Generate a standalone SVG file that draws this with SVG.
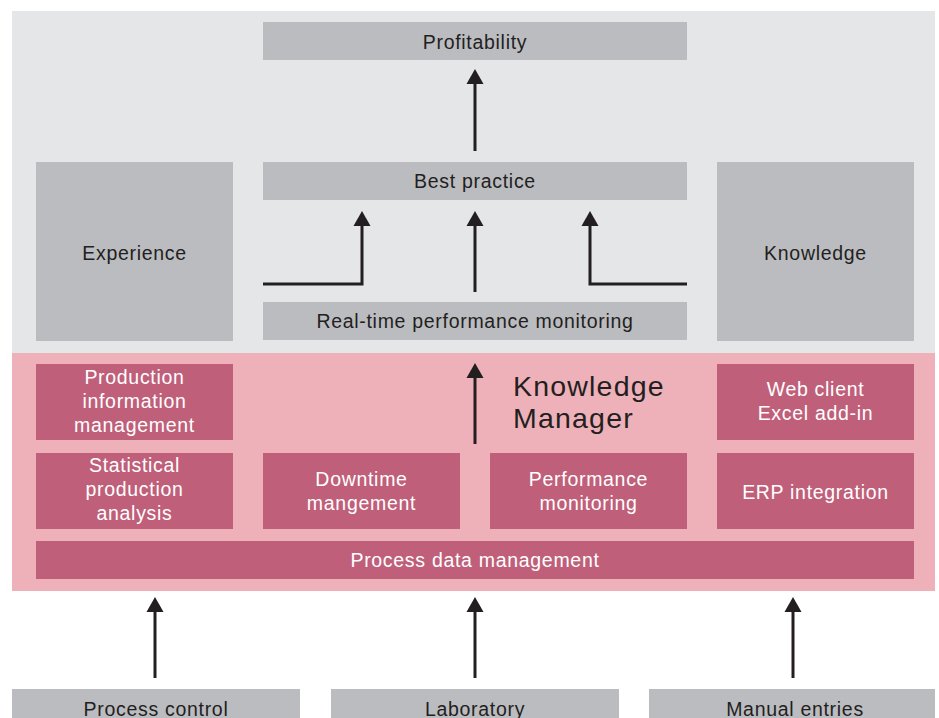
<svg xmlns="http://www.w3.org/2000/svg" width="939" height="718" viewBox="0 0 939 718">
<defs>
<style>
.panelg{fill:#e5e6e8}
.panelp{fill:#eeb1b9}
.g{fill:#bbbcc0}
.p{fill:#c05f7a}
text{font-family:"Liberation Sans",Arial,Helvetica,sans-serif;font-size:19.5px;letter-spacing:0.7px;text-anchor:middle}
.dk{fill:#231f20}
.wt{fill:#ffffff}
.km{font-size:28.5px;letter-spacing:1.2px;text-anchor:start;fill:#231f20}
.con{fill:none;stroke:#231f20;stroke-width:3}
</style>
<marker id="ah" markerUnits="userSpaceOnUse" markerWidth="16" markerHeight="18" refX="0" refY="8.5" orient="auto" viewBox="0 0 16 17">
<path d="M0,0 L15,8.5 L0,17 Z" fill="#231f20"/>
</marker>
</defs>
<rect width="939" height="718" fill="#ffffff"/>
<rect class="panelg" x="12" y="11" width="923" height="342"/>
<rect class="panelp" x="12" y="353" width="923" height="238"/>

<g id="profitability"><rect class="g" x="263" y="22" width="424" height="38"/><text class="dk" x="475" y="49">Profitability</text></g>
<g id="best-practice"><rect class="g" x="263" y="162" width="424" height="38"/><text class="dk" x="475" y="188">Best practice</text></g>
<g id="realtime"><rect class="g" x="263" y="302" width="424" height="38"/><text class="dk" x="475" y="328">Real-time performance monitoring</text></g>
<g id="experience"><rect class="g" x="36" y="162" width="197" height="179"/><text class="dk" x="134.5" y="260">Experience</text></g>
<g id="knowledge"><rect class="g" x="717" y="162" width="197" height="179"/><text class="dk" x="815.5" y="260">Knowledge</text></g>

<g id="knowledge-manager"><text class="km" x="513" y="396">Knowledge</text><text class="km" x="513" y="428">Manager</text></g>
<g id="pim"><rect class="p" x="36" y="364" width="197" height="76"/><text class="wt" x="134.5" y="384">Production</text><text class="wt" x="134.5" y="408">information</text><text class="wt" x="134.5" y="432">management</text></g>
<g id="spa"><rect class="p" x="36" y="453" width="197" height="76"/><text class="wt" x="134.5" y="472">Statistical</text><text class="wt" x="134.5" y="496">production</text><text class="wt" x="134.5" y="520">analysis</text></g>
<g id="downtime"><rect class="p" x="263" y="453" width="197" height="76"/><text class="wt" x="361.5" y="486">Downtime</text><text class="wt" x="361.5" y="510">mangement</text></g>
<g id="performance"><rect class="p" x="490" y="453" width="197" height="76"/><text class="wt" x="588.5" y="486">Performance</text><text class="wt" x="588.5" y="510">monitoring</text></g>
<g id="webclient"><rect class="p" x="717" y="364" width="197" height="76"/><text class="wt" x="815.5" y="396">Web client</text><text class="wt" x="815.5" y="420">Excel add-in</text></g>
<g id="erp"><rect class="p" x="717" y="453" width="197" height="76"/><text class="wt" x="815.5" y="499">ERP integration</text></g>
<g id="pdm"><rect class="p" x="36" y="541" width="878" height="38"/><text class="wt" x="475" y="567">Process data management</text></g>

<g id="process-control"><rect class="g" x="12" y="689" width="288" height="40"/><text class="dk" x="156" y="716">Process control</text></g>
<g id="laboratory"><rect class="g" x="331" y="689" width="288" height="40"/><text class="dk" x="475" y="716">Laboratory</text></g>
<g id="manual-entries"><rect class="g" x="649" y="689" width="286" height="40"/><text class="dk" x="795" y="716">Manual entries</text></g>

<g id="connectors">
<line class="con" x1="475" y1="151" x2="475" y2="84" marker-end="url(#ah)"/>
<line class="con" x1="475" y1="292" x2="475" y2="226" marker-end="url(#ah)"/>
<polyline class="con" points="263,284 362,284 362,226" marker-end="url(#ah)"/>
<polyline class="con" points="687,284 590,284 590,226" marker-end="url(#ah)"/>
<line class="con" x1="475" y1="444" x2="475" y2="378" marker-end="url(#ah)"/>
<line class="con" x1="155" y1="678" x2="155" y2="612" marker-end="url(#ah)"/>
<line class="con" x1="475" y1="678" x2="475" y2="612" marker-end="url(#ah)"/>
<line class="con" x1="793" y1="678" x2="793" y2="612" marker-end="url(#ah)"/>
</g>
</svg>
